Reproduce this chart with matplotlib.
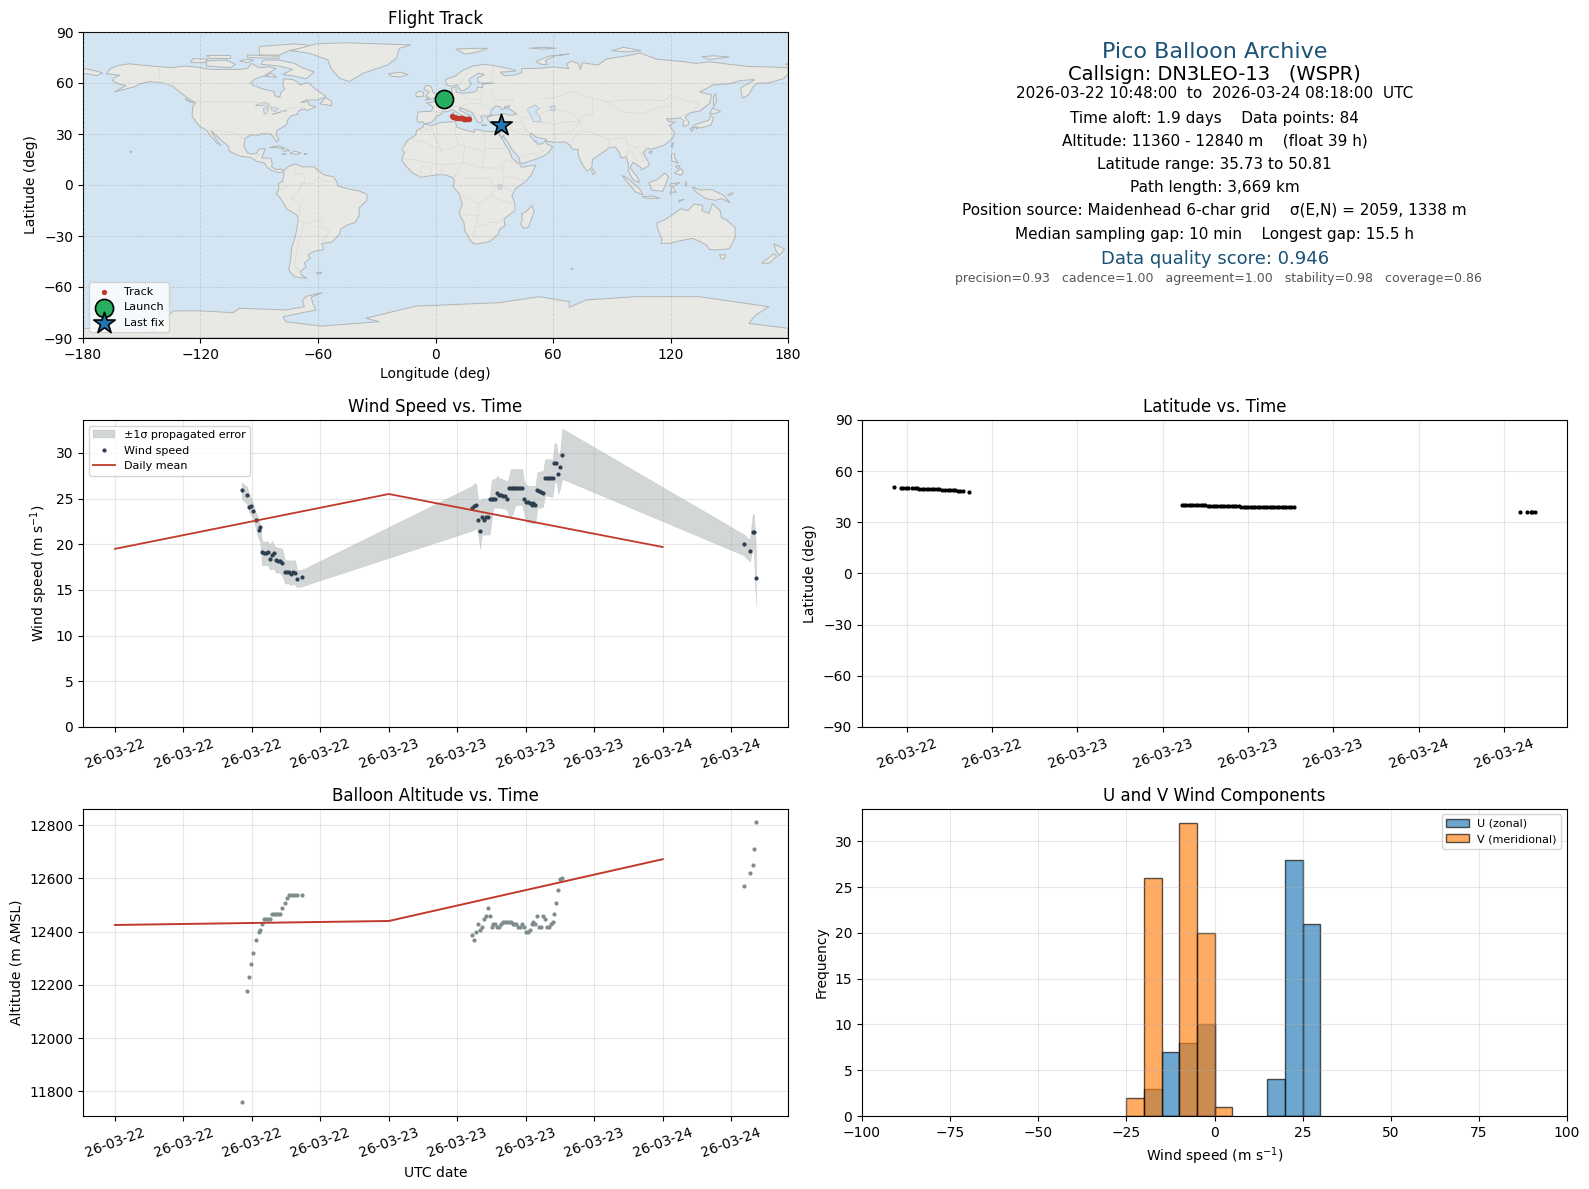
import numpy as np
import pandas as pd
import matplotlib
matplotlib.use("Agg")
import matplotlib.pyplot as plt
import matplotlib.dates as mdates
from matplotlib.patches import Polygon

# ---- flight data (hours since 2026-03-22 00:00 UTC) ----
t_hours = [11.1, 11.56, 11.74, 11.91, 12.09, 12.33, 12.6, 12.7, 12.88, 13.05, 13.23, 13.4, 13.58, 13.75,
           13.93, 14.1, 14.28, 14.45, 14.65, 14.9, 15.07, 15.24, 15.42, 15.6, 15.77, 15.95, 16.38,
           31.32, 31.49, 31.66, 31.82, 31.99, 32.16, 32.33, 32.49, 32.66, 32.83, 33.0, 33.16, 33.33, 33.5,
           33.67, 33.83, 34.0, 34.17, 34.34, 34.5, 34.67, 34.84, 35.01, 35.17, 35.34, 35.51, 35.68, 35.84,
           36.01, 36.18, 36.35, 36.51, 36.68, 36.85, 37.02, 37.18, 37.35, 37.52, 37.69, 37.85, 38.02, 38.19,
           38.36, 38.52, 38.69, 38.86, 39.03, 39.2,
           55.1, 55.64, 55.9, 56.0, 56.18]
wind_speed = [25.9, 25.4, 24.1, 24.2, 23.6, 22.7, 21.6, 21.9, 19.1, 19.0, 19.0, 19.1, 18.4, 18.8,
              19.0, 18.25, 18.2, 18.2, 17.9, 17.0, 17.0, 17.0, 16.7, 17.0, 16.9, 16.25, 16.45,
              23.94, 24.16, 24.3, 22.7, 21.4, 23.03, 22.7, 23.0, 23.03, 24.9, 24.9, 24.9, 24.9, 25.66,
              25.36, 25.36, 25.33, 25.25, 25.0, 26.2, 26.2, 26.2, 26.2, 26.2, 26.2, 26.2, 26.2, 24.9,
              24.6, 24.6, 24.5, 24.3, 24.5, 24.3, 25.9, 25.85, 25.75, 25.66, 27.3, 27.2, 27.2, 27.2,
              27.2, 28.94, 28.94, 27.7, 28.5, 29.8,
              20.0, 19.3, 21.3, 21.3, 16.35]
wind_hi = [26.75, 26.3, 25.6, 25.1, 24.5, 23.5, 22.8, 22.3, 20.4, 20.3, 20.3, 20.3, 19.9, 20.4,
           19.9, 19.7, 19.6, 19.6, 19.5, 18.25, 18.25, 18.25, 18.2, 18.25, 18.25, 17.2, 17.2,
           26.4, 26.7, 26.6, 24.9, 24.8, 25.0, 25.0, 25.0, 25.05, 25.07, 26.9, 27.2, 27.1, 27.5,
           27.2, 27.2, 27.1, 27.0, 26.9, 27.2, 28.2, 28.25, 28.25, 28.25, 28.25, 28.25, 28.25, 27.0,
           26.5, 26.45, 26.4, 26.4, 26.4, 26.4, 27.9, 27.95, 28.0, 28.0, 29.3, 29.3, 29.3, 29.3,
           29.3, 31.1, 31.0, 29.6, 30.4, 32.66,
           21.1, 20.5, 23.3, 23.3, 19.7]
wind_lo = [25.0, 24.4, 23.6, 23.2, 22.8, 21.8, 20.5, 20.4, 17.7, 17.7, 17.7, 17.7, 17.2, 17.3,
           17.3, 16.9, 16.9, 16.9, 16.6, 15.7, 15.7, 15.7, 15.5, 15.7, 15.6, 15.3, 15.4,
           21.5, 21.6, 21.8, 21.2, 19.5, 21.1, 21.06, 21.06, 21.06, 21.06, 22.5, 24.0, 24.0, 24.0,
           24.0, 24.0, 23.9, 23.9, 23.8, 23.2, 22.9, 23.3, 24.0, 24.3, 24.3, 24.3, 24.3, 23.5,
           22.5, 22.4, 22.4, 22.3, 22.3, 22.3, 24.0, 24.0, 24.0, 24.1, 25.3, 25.3, 25.3, 25.2,
           25.2, 26.7, 26.9, 25.5, 26.2, 27.15,
           18.8, 18.1, 19.5, 19.3, 13.3]
altitude = [11760, 12177, 12230, 12278, 12320, 12369, 12399, 12406, 12429, 12448, 12448, 12448, 12448, 12466,
            12466, 12466, 12466, 12466, 12489, 12508, 12527, 12538, 12538, 12538, 12538, 12538, 12538,
            12387, 12369, 12399, 12429, 12406, 12418, 12448, 12459, 12489, 12459, 12418, 12429, 12429, 12418,
            12418, 12429, 12436, 12436, 12436, 12436, 12436, 12429, 12429, 12429, 12418, 12418, 12429, 12418,
            12399, 12399, 12406, 12429, 12436, 12429, 12459, 12418, 12418, 12459, 12448, 12418, 12418, 12429,
            12436, 12466, 12508, 12557, 12598, 12600,
            12570, 12620, 12650, 12710, 12810]
latitude = [50.81, 50.2, 50.2, 50.15, 50.1, 50.0, 49.9, 49.9, 49.75, 49.7, 49.65, 49.6, 49.55, 49.5,
            49.4, 49.35, 49.3, 49.2, 49.1, 49.0, 48.95, 48.85, 48.8, 48.6, 48.4, 48.1, 47.8,
            40.3, 40.3, 40.3, 40.3, 40.3, 40.3, 40.3, 40.3, 40.3, 40.3, 40.3, 39.6, 39.6, 39.6,
            39.6, 39.6, 39.6, 39.6, 39.6, 39.6, 39.6, 39.6, 39.6, 39.6, 39.6, 39.1, 39.1, 39.1,
            39.1, 39.1, 39.1, 39.1, 39.1, 39.1, 39.1, 39.1, 39.1, 39.1, 39.1, 39.1, 39.1, 39.1,
            39.1, 39.1, 39.1, 39.1, 39.1, 39.1,
            36.1, 35.9, 35.9, 35.9, 35.9]

day_hours = [0, 24, 48]
wind_daily = [19.5, 25.5, 19.7]
alt_daily = [12425, 12440, 12672]

track_lon = [8.2, 8.8, 9.5, 10.1, 10.7, 11.3, 11.9, 12.5, 13.1, 13.7, 14.3, 14.9, 15.5, 16.1, 16.6, 17.0]
track_lat = [40.4, 40.2, 40.0, 39.8, 39.7, 39.6, 39.5, 39.4, 39.3, 39.2, 39.1, 39.0, 39.0, 38.9, 38.9, 38.8]
launch = (4.3, 50.3)
last_fix = (33.4, 35.4)

bin_left = [-25, -20, -15, -10, -5, 0, 15, 20, 25]
u_counts = [0, 3, 7, 8, 10, 0, 4, 28, 21]
v_counts = [2, 26, 0, 32, 20, 1, 0, 0, 0]

# ---- rough coastlines, lon/lat ----
land = [
    # north america
    [(-168,65.5),(-166,68.5),(-162,70.3),(-156.5,71.3),(-150,70.5),(-141,69.6),(-135,69),(-128,70),(-123,69.5),(-115,68),
     (-108,68),(-100,68),(-96,68.5),(-94,71.5),(-90,69),(-85,69.5),(-81.5,68.5),(-87,64.5),(-92,62.5),(-94.5,60),(-93,58.5),
     (-88,56.5),(-82.5,55),(-82,52.5),(-79.5,51.5),(-79,54.5),(-77,56.5),(-78,59),(-77.5,62.5),(-73,62),(-70,60.5),(-69.5,58.8),
     (-65,60.3),(-61.5,56.5),(-57,53),(-56,52),(-60,50),(-66,50),(-69,48.5),(-65,49),(-64.5,47),(-61,46),(-64,44.5),(-66,43.8),
     (-67,45),(-70,43.5),(-70.5,41.7),(-74,40.5),(-75.5,38),(-76,35.5),(-78,34),(-81,32),(-81.3,30),(-80.1,26.5),(-81,25.2),
     (-82.7,28),(-84,30),(-89,30.2),(-90,29.2),(-94,29.6),(-97.3,27.5),(-97.8,22.5),(-96,19),(-94,18.2),(-91,18.8),(-90.5,21),
     (-87,21.5),(-88,18),(-88.8,15.8),(-84,15.8),(-83.3,12),(-83.8,10.8),(-81.5,9),(-79.5,9.5),(-77.4,8.6),(-78.2,7.5),(-80,7.3),
     (-83,8.3),(-85.7,10),(-87.5,13),(-91.5,14),(-94.5,16.2),(-100,17),(-105.5,20),(-105.5,22.5),(-109,26),(-112.8,30),(-114.7,31.7),
     (-111,25),(-109.5,23),(-112,25),(-115,29),(-117.1,32.5),(-120.5,34.5),(-122.5,37.5),(-124.3,40.4),(-124,46),(-122.5,48.3),
     (-125,50),(-128,52.5),(-130.5,54.5),(-134,58),(-139,60),(-146,60.8),(-151,59.5),(-153,58),(-158,56.5),(-164,54.7),(-158,58.5),
     (-162,59.5),(-165,61.5),(-164,63.2),(-161,64.5)],
    # arctic canada
    [(-80,73.5),(-72,71.5),(-68,69),(-62,66.5),(-66,62.5),(-72,64),(-78,65),(-73,68),(-80,70),(-89,71),(-88,73.5)],
    [(-117,70),(-105,69),(-102,71),(-107,73.5),(-117,73)],
    [(-125,72),(-118,72),(-116,74),(-124,74.3)],
    [(-90,76.5),(-80,76.3),(-75,79),(-62,82),(-72,83),(-90,81.5)],
    [(-96,75),(-80,74.5),(-80,75.7),(-96,76.5)],
    [(-115,75),(-105,75),(-105,76.5),(-117,76.5)],
    [(-100,73),(-96,72),(-93,73.5),(-97,74)],
    [(-87,64),(-81,63.3),(-84,65.8)],
    [(-59,47.7),(-53,46.7),(-53,49),(-56,51.5)],
    [(-128,50.7),(-123.5,48.4),(-125.5,48.8)],
    # greenland, iceland
    [(-73.8,79),(-61,83),(-45.7,83.7),(-12.6,82.4),(-18.5,80.4),(-20,74.5),(-24.5,70.6),(-37,65.7),(-44,60.8),(-49,62.8),(-53.4,68.6),(-55,73.6),(-64.4,77.5)],
    [(-24,65.5),(-18,66.3),(-14,65),(-18,63.5),(-22.5,64)],
    # caribbean
    [(-85,22),(-80,23),(-74.2,20.2),(-77.5,19.9),(-78,21.5),(-82,22.2)],
    [(-74.3,18.5),(-72,20),(-68.5,18.7),(-71,18)],
    [(-78.3,18.4),(-76.3,18.1),(-77.5,17.8)],
    [(-67.2,18.4),(-65.7,18.3),(-66.5,18)],
    # south america
    [(-77.4,8.6),(-75,11),(-71.5,12.4),(-68,10.7),(-62,10.7),(-60,8.5),(-57,6),(-52,4.8),(-50,1),(-50,-0.5),(-44,-2.5),(-39,-3.5),
     (-35,-5.5),(-35,-9),(-39,-13.5),(-39,-18),(-41,-22),(-45,-23.5),(-48.5,-26),(-49,-29),(-53,-33.5),(-58,-34.5),(-57,-38),(-62,-39),
     (-65,-41),(-64,-43),(-67,-46),(-66,-48),(-69,-51),(-68.5,-53),(-65.5,-55),(-72,-54),(-75,-50),(-74,-44),(-73.5,-37),(-71.5,-30),
     (-70,-20),(-71,-17.5),(-76,-14),(-79,-8),(-81.3,-5),(-80,-2.5),(-80.3,0.5),(-78,2.5),(-77.5,5)],
    [(-61,-51.5),(-58,-51.3),(-59,-52.3)],
    # africa
    [(-5.9,35.8),(-2,35),(3,36.8),(10,37.3),(11,34),(15,32.3),(20,31),(20,32.8),(25,31.7),(32,31.2),(32.5,29.9),(34,27),(35.5,24),
     (37.3,21),(39,16),(43,12),(44,10.5),(51.2,11.8),(49,6),(46,2),(41,-2),(39,-6),(40.5,-11),(40.5,-15),(35,-20),(35.5,-24),(32.8,-26),
     (32,-29),(28,-33),(25,-34),(20,-34.8),(18,-33),(15,-27),(14.5,-22),(12,-17),(13.7,-11),(12,-5),(9,-1),(9.7,3),(8.5,4.5),(5,6),(1,6),
     (-4,5.2),(-7.5,4.5),(-11.5,7),(-15,11),(-17.3,14.7),(-16,19),(-17,21),(-14.5,26),(-10,29.5),(-9.7,32),(-6.5,34)],
    [(49.3,-12),(50.4,-15.5),(47.5,-24.8),(45,-25.5),(43.5,-23),(44.3,-20),(44,-17),(46.5,-15.5)],
    # eurasia
    [(-9,37),(-9.5,38.8),(-8.8,43),(-2,43.4),(-1.2,46),(-4.7,48.4),(-1.5,48.7),(1.5,50.3),(4,52),(7,53.5),(8.5,54),(8.2,57),(10.5,57.6),
     (10.5,54.5),(14,54),(19,54.5),(21,55.5),(21.5,57.5),(24,57.3),(24,59.3),(30,60),(23,60),(21.5,61),(21.5,63),(25,65),(22,65.8),
     (17.5,62.5),(17,61),(18.5,59.8),(16.5,57),(14.3,55.5),(12.8,55.5),(11,59),(8,58),(5.5,59),(5,62),(10,64),(14,67.5),(19,70),(25,71),
     (31,70),(41,67.5),(41,67),(35,66.5),(33,66.5),(35,64.3),(40,64.6),(44,66),(44,68.5),(54,68.7),(60,69.5),(68,68.5),(67,71),(69,73),
     (73,71.5),(74,68),(75,72),(83,70.5),(87,74),(100,76.5),(104.3,77.7),(113,74),(127,72.5),(133,71.5),(140,72.5),(150,71),(160,69.7),
     (170,69.5),(180,69),(180,65),(177.5,62.5),(170,60),(164,59.8),(162,57.5),(160,53),(156.7,51),(155.8,57),(163,62),(156,61.5),(150,59.5),
     (142,59),(135,54.7),(141,53),(140,48),(135,43.5),(130,42.5),(127.5,39.8),(129.4,37),(129,35.2),(126.3,34.5),(126.7,37.7),(125,39.5),
     (121.5,39),(118,39),(119,37.3),(122.5,37),(119.3,35),(122,31),(121.5,28),(117,23.5),(113,22),(110,21),(108,21.5),(106,19),(109,13),
     (109,11.5),(105,8.7),(105,10),(102.5,12.2),(100.8,13.4),(99.3,10),(103.3,4.5),(104.2,1.4),(101,3),(98.5,8),(98.5,12),(97.5,16.5),
     (94.5,16),(94,19),(91.7,22.5),(88.5,21.7),(86.5,20),(82,16.5),(80.2,15),(79.8,10.3),(77.5,8),(75,12),(73,17),(72.8,21),(70,21),
     (68.5,23.5),(66.5,25.2),(61.5,25.1),(57,25.7),(56.5,27),(51.5,28),(49,30.3),(48,30),(48.5,28.5),(50,26.7),(51,25),(51.3,26),(52,24),
     (54.5,24.2),(56.3,26.2),(56.5,24.5),(59.8,22.5),(57.7,19),(55,17),(52,15.5),(45,12.8),(43.3,12.8),(42.7,16),(39,21),(37,25),(35,28),
     (34.8,29.5),(34.3,27.8),(32.6,29.9),(32.3,31.2),(34.3,31.3),(36,34),(36,36.7),(32.5,36),(30.5,36.5),(27.5,37),(26.3,39.5),(29,41),
     (31.5,41.2),(35,42),(38,41),(41.5,41.5),(39,43.8),(37,45),(38,46.8),(35,45.8),(36.5,45.3),(33.5,44.5),(33,46),(30.7,46.5),(28.6,44),
     (28,42),(29,41.2),(26.2,40.5),(23,40.5),(24,38),(23,36.5),(21.5,37),(19.5,41),(18.7,42.6),(14,45),(12.4,45.5),(12.4,44),(16,41.8),
     (18.5,40.2),(16.8,40.4),(17,39),(16,38),(15.8,40),(12.5,41.5),(10.5,43),(8.8,44.4),(6,43.1),(3.1,43),(3.2,41.8),(0.5,40.5),(-0.3,39),
     (-2,36.8),(-5.3,36.1),(-6.5,37)],
    [(-180,65),(-180,68.8),(-175,67.5),(-170,66),(-173,64.3),(-178,65.5)],
    # europe islands
    [(-5.5,50),(1.3,51.2),(1.7,52.8),(0,53.5),(-1.5,55),(-2,57.5),(-3.5,58.5),(-5,58.5),(-6,56.5),(-3.2,54.8),(-4.5,53.2),(-5,52),(-3,51.4)],
    [(-10,52),(-6.2,52.2),(-6,54.5),(-8,55.2),(-10,54)],
    [(12.5,38),(15.5,38.2),(15,36.7)],
    [(8.3,41),(9.7,41),(9.5,39.2),(8.5,39)],
    [(8.7,42.6),(9.5,42.8),(9.3,41.4)],
    [(23.5,35.5),(26.3,35.2),(24.5,34.9)],
    [(32.4,35),(34.5,35.6),(33.5,34.7)],
    [(51.3,72.6),(54,71),(57,70.7),(56,73),(61,76),(68.3,77),(58,75.8),(53,73.5)],
    [(10.5,80),(20,80.4),(26.7,80.4),(20.7,78),(15,77)],
    [(48,80.5),(55,81),(62,80.5),(55,80)],
    [(90,79),(96,81),(105,79),(98,78.3)],
    [(136,75.5),(142,76),(150,75.3),(140,73.8)],
    [(178.5,71),(180,71.5),(180,70.8)],
    # asia islands
    [(142,46),(143.5,49),(143,54),(142,52)],
    [(131,34),(136,33.6),(140.8,35.5),(142,39.5),(140.5,41),(139.5,38),(136.5,37),(132.5,35.5)],
    [(140,42),(141.5,45.3),(145.5,43.3),(143,42)],
    [(130,33.5),(131.8,33.5),(130.8,31.2)],
    [(132.5,34),(134.5,34.2),(133.5,33)],
    [(120.3,23),(121.5,25.2),(121,22)],
    [(108.8,19.3),(110.8,20),(110,18.3)],
    [(80,9.7),(81.8,7.5),(80.5,6),(79.8,8)],
    [(120.5,18.3),(122.3,18.3),(122,16),(124,13),(120.7,14)],
    [(122,7),(125.5,9.7),(126.5,7),(125,5.7)],
    [(122.5,11),(125,11.5),(124,9.5)],
    [(109,1.5),(113,3),(117,7),(119,5),(117.7,1),(116,-3.8),(110.5,-3)],
    [(95.3,5.6),(98,4),(104,-2),(106,-5.8),(102,-4),(98.5,1)],
    [(105.5,-6.8),(111,-6.5),(114.5,-7.8),(108,-7.9)],
    [(119.5,-5.5),(120.5,-3),(119.8,0.5),(125,1.5),(121,-1),(123,-4.5),(121.5,-4)],
    [(131,-1),(135,-3),(141,-2.7),(147,-6),(150.5,-10.5),(146,-8),(143,-9),(138,-8),(133,-4)],
    [(124,-10),(127,-8.4),(124.5,-9)],
    [(127.5,2),(128.5,1),(127.8,-0.8)],
    [(149,-6),(152,-4.3),(151,-6)],
    # australia, nz
    [(113,-22.5),(113.5,-26),(115.7,-32),(115,-34.3),(119.4,-34.3),(124,-33),(131.2,-31.4),(134,-32.7),(138,-35),(140,-38),(144,-38.2),(150,-37.5),
     (153,-31),(153,-25),(149,-21),(146,-19),(145.3,-15),(141.4,-10.8),(139.7,-16.7),(136,-15),(136.5,-12),(132,-11.2),(129,-15),(125,-14),(122,-16.7),(117,-20.5)],
    [(145,-41),(148,-41),(147.5,-43.5),(146,-43.5)],
    [(172.7,-34.5),(178.3,-37.7),(175.5,-41.5),(174,-39)],
    [(172.7,-40.5),(174.3,-41.8),(170.5,-46),(166.5,-46),(170,-43)],
    [(-156,20),(-155,19.6),(-155.8,19)],
    [(69,-49),(70.5,-49.2),(69.5,-49.8)],
    # antarctica
    [(-180,-90),(-180,-84.3),(-143.5,-85.3),(-134,-74.1),(-120.5,-74),(-103.5,-75.1),(-100,-72.5),(-76.3,-73.5),(-67,-71.6),(-68,-68),(-66,-65.5),
     (-57.6,-63.3),(-63.5,-66),(-62.5,-70),(-61,-73.5),(-78,-77.5),(-76.3,-80.4),(-58.5,-83),(-28.7,-80.4),(-35.5,-78.4),(-10,-71.2),(3.6,-70.6),
     (32.6,-69.2),(53,-65.7),(68.3,-68.6),(68.3,-72),(77,-67.6),(102.3,-65.7),(134.6,-65.7),(170.3,-71.6),(163.5,-76.5),(160,-81.4),(180,-84.3),(180,-90)],
]
lakes = [
    [(47,45),(51,47),(53,45),(51,43),(53,41),(54,37),(50,37.3),(49,40),(47.5,42.8)],
    [(58.5,46),(61,46.8),(61,44),(59,43.7)],
    [(-92,46.7),(-88,48.8),(-85,47.5),(-85,46.6)],
    [(-87.5,41.8),(-87.8,45),(-85,46),(-86.3,42)],
    [(-84,46),(-80,45),(-81.7,43.2),(-83.5,43.8)],
    [(-83.3,41.6),(-79,42.8),(-81,42.4)],
    [(-79.5,43.4),(-76.3,44),(-76.3,43.4)],
    [(31.8,0),(34,0),(33.5,-2.7),(32,-2.2)],
]
borders = [
    [(-141,69.6),(-141,60),(-134,58.5),(-130,55)],
    [(-123,49),(-95,49),(-89,48),(-83,45.5),(-79,43),(-75,45),(-70,46),(-67,45)],
    [(-117,32.5),(-106,31.5),(-101,29.5),(-97.3,26)],
    [(-92,14.5),(-91,17.5),(-89,18)],
    [(-70,-20),(-69,-11),(-74,-8),(-70,-4),(-69,1),(-62,1),(-60,5),(-57,2),(-52,2)],
    [(-70,-20),(-67,-23),(-70,-33),(-72,-47),(-69,-52)],
    [(-67,-23),(-58,-20),(-58,-25),(-54,-27),(-58,-34)],
    [(-72,12),(-72,7),(-67,6),(-67,1),(-70,-4)],
    [(-80,-3),(-75,-1),(-78,2)],
    [(-9,32),(-2,33),(-2,35)],
    [(-2,33),(3,20),(-5,25),(-13,27),(-17,21)],
    [(3,20),(12,23.5),(10,30),(10,37)],
    [(12,23.5),(25,20),(25,31.7)],
    [(25,22),(37,22)],
    [(25,20),(24,10),(34,10),(35,5),(41,4),(46,2)],
    [(34,10),(36,15),(43,12)],
    [(35,5),(34,-1),(40,-4)],
    [(34,-1),(30,-1),(29,-6),(31,-8),(39,-11)],
    [(29,-6),(22,-11),(12,-6)],
    [(22,-11),(22,-18),(12,-17)],
    [(22,-18),(20,-25),(20,-29),(17,-29)],
    [(20,-25),(28,-22),(32,-22),(35,-20)],
    [(24,10),(14,13),(15,23)],
    [(14,13),(3,12),(-12,15),(-17,15)],
    [(3,12),(3,6)],
    [(14,13),(9,4)],
    [(-8,5),(-8,11),(-3,11),(-3,5)],
    [(14,4),(28,4),(30,-1)],
    [(-1.5,43.3),(3,42.5)],
    [(2.5,51),(8,49),(7,46),(10,46),(13.5,46.5),(17,48),(23,48),(28,45.5),(28,43.5)],
    [(6,53),(7,49)],
    [(14,54),(15,51),(23,50),(24,54),(21,55)],
    [(28,56),(30,50),(40,50),(38,47)],
    [(28,60),(30,70)],
    [(12,59),(18,69)],
    [(22,41),(26,41.5)],
    [(26,41.5),(28,42)],
    [(36,36.7),(44,37),(44.5,40),(41.5,41.5)],
    [(44,37),(46,33),(48,30)],
    [(46,33),(39,32),(36,33)],
    [(39,32),(47,29),(48,29)],
    [(52,17),(55,20),(52,23)],
    [(44,17),(52,19)],
    [(46,40),(48,38.5)],
    [(54,37),(61,36),(61,31),(61.5,25)],
    [(61,36),(66,37),(74,37.5),(71,33),(66,30),(61,30)],
    [(74,37.5),(75,32),(70,27),(70,24)],
    [(75,32),(79,31),(88,27),(97,28),(98,24),(99,20),(97,17)],
    [(88,27),(88,22)],
    [(98,24),(102,22),(106,23),(108,21.5)],
    [(102,22),(105,18),(107,14),(103,14),(100,20)],
    [(48,42),(47,45)],
    [(53,51),(60,51),(70,55),(80,51),(87,49),(98,50),(107,50),(117,49.5),(120,53),(127,50),(135,48),(131,43)],
    [(87,49),(96,43),(105,42),(112,45),(120,47)],
    [(54,42),(60,45),(70,42),(74,37.5)],
    [(80,42),(74,40)],
    [(80,51),(80,42)],
    [(124.5,40),(130,42.5)],
    [(126,38),(129,38)],
]

wind_time = pd.Timestamp("2026-03-22") + pd.to_timedelta(t_hours, unit="h")
day_time = pd.Timestamp("2026-03-22") + pd.to_timedelta(day_hours, unit="h")

W, H = 1589, 1189
fig = plt.figure(figsize=(W / 100, H / 100), dpi=100)


def make_axes(left, top, right, bottom):
    return fig.add_axes([left / W, 1 - bottom / H, (right - left) / W, (bottom - top) / H])


def time_axis(ax):
    ax.xaxis.set_major_locator(mdates.HourLocator(byhour=[0, 6, 12, 18]))
    ax.xaxis.set_major_formatter(mdates.DateFormatter("%y-%m-%d"))
    ax.tick_params(axis="x", labelrotation=20)
    ax.grid(True, alpha=0.3)


# map
ax = make_axes(83, 32, 788, 338)
ax.set_facecolor("#d3e5f2")
for poly in land:
    ax.add_patch(Polygon(poly, closed=True, facecolor="#e8e8e4", edgecolor="#b0b6b8", linewidth=0.7, zorder=1))
for poly in lakes:
    ax.add_patch(Polygon(poly, closed=True, facecolor="#d3e5f2", edgecolor="#b0b6b8", linewidth=0.5, zorder=1.1))
for line in borders:
    xs, ys = zip(*line)
    ax.plot(xs, ys, color="#d9d9d6", lw=0.5, zorder=1.2)
ax.scatter(track_lon, track_lat, s=8, color="#c0392b", zorder=4, label="Track")
ax.scatter(*launch, s=170, color="#27ae60", edgecolor="black", linewidth=1.2, zorder=5, label="Launch")
ax.scatter(*last_fix, s=260, marker="*", color="#1f77b4", edgecolor="black", linewidth=1.2, zorder=5, label="Last fix")
ax.set_xlim(-180, 180)
ax.set_ylim(-90, 90)
ax.set_xticks(np.arange(-180, 181, 60))
ax.set_yticks(np.arange(-90, 91, 30))
ax.grid(True, color="gray", alpha=0.25, lw=0.6, linestyle="--", zorder=2)
ax.set_axisbelow(False)
ax.set_xlabel("Longitude (deg)")
ax.set_ylabel("Latitude (deg)")
ax.set_title("Flight Track")
ax.legend(loc="lower left", fontsize=8)

# summary text
summary = [
    (52, 0, "Pico Balloon Archive", 16, "#1a5276"),
    (75, 0, "Callsign: DN3LEO-13   (WSPR)", 14, "black"),
    (94, 0.5, "2026-03-22 10:48:00  to  2026-03-24 08:18:00  UTC", 11, "black"),
    (118.5, 0, "Time aloft: 1.9 days    Data points: 84", 11, "black"),
    (141.5, 0, "Altitude: 11360 - 12840 m    (float 39 h)", 11, "black"),
    (164.5, 0, "Latitude range: 35.73 to 50.81", 11, "black"),
    (187.5, 0, "Path length: 3,669 km", 11, "black"),
    (210.5, 0, "Position source: Maidenhead 6-char grid    \u03c3(E,N) = 2059, 1338 m", 11, "black"),
    (234, 0, "Median sampling gap: 10 min    Longest gap: 15.5 h", 11, "black"),
    (258.5, 0.5, "Data quality score: 0.946", 13, "#1a5276"),
    (278.5, 3.5, "precision=0.93   cadence=1.00   agreement=1.00   stability=0.98   coverage=0.86", 9, "#555555"),
]
for y_px, dx, txt, size, col in summary:
    fig.text(((862 + 1567) / 2 + dx) / W, 1 - y_px / H, txt, fontsize=size, color=col, ha="center", va="center")

# wind speed
ax = make_axes(83, 420, 788, 727)
ax.fill_between(wind_time, wind_lo, wind_hi, color="#7f8c8d", alpha=0.35, linewidth=0.3,
                label="\u00b11\u03c3 propagated error")
ax.plot(wind_time, wind_speed, "o", ms=2, color="#2c3e50", label="Wind speed")
ax.plot(day_time, wind_daily, color="#c0392b", lw=1.3, label="Daily mean")
ax.set_ylim(0, 33.6)
time_axis(ax)
ax.set_ylabel("Wind speed (m s$^{-1}$)")
ax.set_title("Wind Speed vs. Time")
ax.legend(loc="upper left", fontsize=8)

# latitude
ax = make_axes(862, 420, 1567, 727)
ax.plot(wind_time, latitude, "o", ms=2, color="black")
ax.set_ylim(-90, 90)
ax.set_yticks(np.arange(-90, 91, 30))
time_axis(ax)
ax.set_ylabel("Latitude (deg)")
ax.set_title("Latitude vs. Time")

# altitude
ax = make_axes(83, 808.5, 788, 1116)
ax.plot(wind_time, altitude, "o", ms=2, color="#7f8c8d")
ax.plot(day_time, alt_daily, color="#c0392b", lw=1.4)
time_axis(ax)
ax.set_xlabel("UTC date")
ax.set_ylabel("Altitude (m AMSL)")
ax.set_title("Balloon Altitude vs. Time", pad=5.5)

# u and v histogram
ax = make_axes(862, 808.5, 1567, 1116)
ax.bar(bin_left, u_counts, width=5, align="edge", color="#1f77b4", alpha=0.65, edgecolor="black", label="U (zonal)")
ax.bar(bin_left, v_counts, width=5, align="edge", color="#ff7f0e", alpha=0.65, edgecolor="black", label="V (meridional)")
ax.set_xlim(-100, 100)
ax.grid(True, alpha=0.3)
ax.set_xlabel("Wind speed (m s$^{-1}$)")
ax.set_ylabel("Frequency")
ax.set_title("U and V Wind Components", pad=5.5)
ax.legend(loc="upper right", fontsize=8)

fig.savefig("out.png", dpi=100)
